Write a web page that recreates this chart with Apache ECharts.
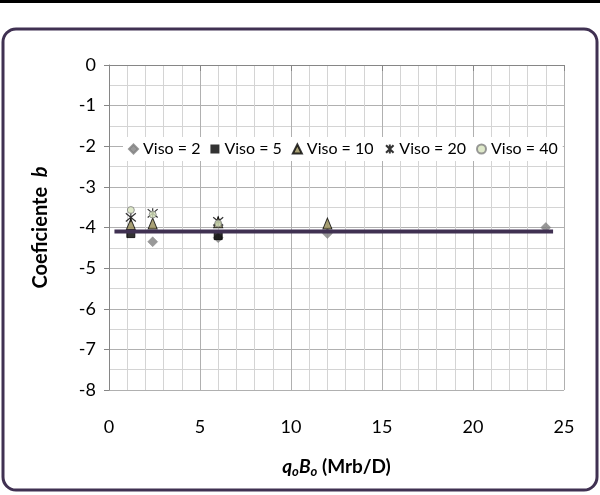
<!DOCTYPE html>
<html>
<head>
<meta charset="utf-8">
<script src="https://cdn.jsdelivr.net/npm/echarts@6/dist/echarts.min.js"></script>
<style>
html,body{margin:0;padding:0;background:#fff;}
#c{width:600px;height:495px;}
</style>
</head>
<body>
<div id="c"></div>
<script>
var qoBo = [1.2, 2.4, 6, 12, 24];
var viso2 = [null, -4.35, -4.25, -4.15, -4.0];
var viso5 = [-4.15, null, -4.2, null, null];
var viso10 = [-3.92, -3.9, -3.87, -3.9, null];
var viso20 = [-3.75, -3.65, -3.85, null, null];
var viso40 = [-3.57, -3.68, -3.9, null, null];
var fitX = [0.3, 24.4];
var fitY = [-4.1, -4.1];
var xTicks = [0, 5, 10, 15, 20, 25];
var yTicks = [0, -1, -2, -3, -4, -5, -6, -7, -8];

function pairs(xs, ys){
  var out = [];
  for (var i = 0; i < xs.length; i++) if (ys[i] !== null) out.push([xs[i], ys[i]]);
  return out;
}
var FONT = 'Lato, "Open Sans", sans-serif';
var chart = echarts.init(document.getElementById('c'), null, {renderer:'canvas'});
var starPath = 'path://M-1,-1L1,1M1,-1L-1,1M0,-1.2L0,1.2';
chart.setOption({
  animation:false,
  backgroundColor:'#fff',
  textStyle:{fontFamily:FONT},
  graphic:[
    {type:'rect', shape:{x:0,y:0,width:600,height:3}, style:{fill:'#000'}},
    {type:'rect', shape:{x:3,y:29,width:594,height:461,r:13}, style:{fill:'none',stroke:'#403152',lineWidth:3}}
  ],
  grid:{left:109, right:36, top:65, bottom:105},
  legend:{
    top:137, left:123,
    backgroundColor:'#fff',
    itemGap:10, itemWidth:9, itemHeight:9,
    padding:[4,5],
    textStyle:{fontSize:16, color:'#000', fontFamily:FONT},
    data:['Viso = 2','Viso = 5','Viso = 10','Viso = 20','Viso = 40']
  },
  xAxis:{
    type:'value', min:0, max:25, interval:5,
    axisLine:{show:true, lineStyle:{color:'#868686', width:1}},
    axisTick:{show:true, inside:false, length:6, lineStyle:{color:'#868686'}},
    axisLabel:{fontSize:18, color:'#000', margin:28, fontFamily:FONT},
    splitLine:{show:true, lineStyle:{color:'#b0b0b0', width:1}},
    minorTick:{show:true, splitNumber:5, length:0},
    minorSplitLine:{show:true, lineStyle:{color:'#d4d4d4', width:1}},
    name:'{bi|q}{sub|o}{bi|B}{sub|o}{b| (Mrb/D)}',
    nameLocation:'middle', nameGap:66,
    nameTextStyle:{
      rich:{
        bi:{fontSize:19, fontWeight:'bold', fontStyle:'italic', fontFamily:FONT, color:'#000'},
        sub:{fontSize:13, fontWeight:'bold', fontStyle:'italic', fontFamily:FONT, color:'#000', verticalAlign:'bottom', padding:[9,0,0,0]},
        b:{fontSize:19, fontWeight:'bold', fontFamily:FONT, color:'#000'}
      }
    }
  },
  yAxis:{
    type:'value', min:-8, max:0, interval:1,
    axisLine:{show:true, onZero:false, lineStyle:{color:'#868686', width:1}},
    axisTick:{show:true, inside:false, length:5, lineStyle:{color:'#868686'}},
    axisLabel:{fontSize:18, color:'#000', margin:13, fontFamily:FONT},
    splitLine:{show:true, lineStyle:{color:'#b0b0b0', width:1}},
    minorTick:{show:true, splitNumber:2, length:0},
    minorSplitLine:{show:true, lineStyle:{color:'#d4d4d4', width:1}},
    name:'{b|Coeficiente  }{bi|b}',
    nameLocation:'middle', nameGap:58, nameRotate:90,
    nameTextStyle:{
      rich:{
        b:{fontSize:20, fontWeight:'bold', fontFamily:FONT, color:'#000'},
        bi:{fontSize:20, fontWeight:'bold', fontStyle:'italic', fontFamily:FONT, color:'#000'}
      }
    }
  },
  series:[
    {name:'Viso = 2', type:'scatter', data:pairs(qoBo, viso2), symbol:'diamond', symbolSize:10,
     itemStyle:{color:'#7f7f7f', borderColor:'#7f7f7f', borderWidth:0.5}, z:3},
    {name:'Viso = 5', type:'scatter', data:pairs(qoBo, viso5), symbol:'rect', symbolSize:8,
     itemStyle:{color:'#000', borderColor:'#000'}, z:4},
    {name:'Viso = 10', type:'scatter', data:pairs(qoBo, viso10), symbol:'triangle', symbolSize:[9,11],
     itemStyle:{color:'#948a54', borderColor:'#000', borderWidth:1}, z:5},
    {name:'Viso = 20', type:'scatter', data:pairs(qoBo, viso20), symbol:starPath, symbolSize:10,
     itemStyle:{color:'none', borderColor:'#000', borderWidth:1.2}, z:6},
    {name:'Viso = 40', type:'scatter', data:pairs(qoBo, viso40), symbol:'circle', symbolSize:7,
     itemStyle:{color:'#d7e4bd', borderColor:'#7f7f7f', borderWidth:1}, z:7},
    {name:'fit', type:'line', data:pairs(fitX, fitY), symbol:'none', z:10,
     lineStyle:{color:'#403152', width:4}, silent:true}
  ]
});
</script>
</body>
</html>
